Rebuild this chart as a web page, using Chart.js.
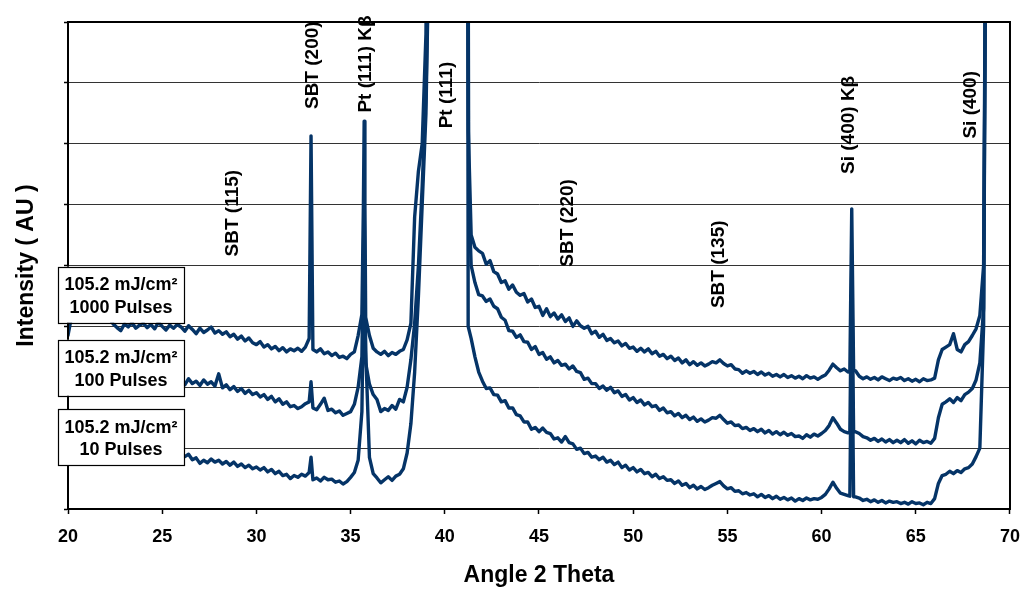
<!DOCTYPE html>
<html>
<head>
<meta charset="utf-8">
<script src="https://cdn.jsdelivr.net/npm/chart.js@4.4.1/dist/chart.umd.min.js"></script>
<style>
  html, body { margin: 0; padding: 0; background: #ffffff; }
  canvas { display: block; }
</style>
</head>
<body>
<canvas id="c" width="1021" height="589"></canvas>
<script>
// ---- DATA -------------------------------------------------------------
// Sampling grid of the scans (degrees 2-theta)
const angleStart = 20;
const angleStep = 0.2;

// Intensity (AU) on the grid, 20.0 .. 68.8 step 0.2 (245 samples each)
const pulses1000 = [
  285, 318, 312, 322, 316, 325, 319, 314, 323, 317,
  320, 313, 304, 298, 293, 304, 299, 306, 297, 302,
  305, 298, 303, 296, 307, 300, 294, 302, 297, 303,
  299, 292, 301, 295, 288, 297, 290, 294, 299, 289,
  293, 287, 291, 283, 287, 279, 284, 276, 281, 273,
  270, 275, 266, 270, 263, 267, 260, 265, 258, 263,
  260, 264, 259, 266, 280, 262, 258, 263, 255, 258,
  252, 256, 249, 251, 247, 254, 258, 285, 320, 315,
  285, 264, 258, 254, 259, 252, 257, 254, 259, 262,
  278, 305, 480, 555, 600, 780, 1500, 1500, 1500, 1500,
  1500, 1500, 1500, 1500, 1500, 1500, 1500, 450, 430, 424,
  420, 402, 408, 390, 386, 372, 375, 361, 368, 356,
  351, 354, 340, 345, 331, 333, 318, 329, 316, 322,
  312, 319, 308, 314, 300, 309, 301, 297, 300, 288,
  292, 282, 287, 277, 280, 273, 276, 268, 272, 264,
  266, 259, 264, 258, 263, 255, 259, 251, 254, 247,
  251, 244, 248, 240, 245, 237, 242, 236, 240, 235,
  238, 242, 240, 245, 239, 235, 237, 230, 229, 223,
  227, 223, 226, 221, 225, 220, 223, 218, 221, 217,
  221, 216, 219, 215, 218, 214, 219, 215, 217, 213,
  217, 220, 228, 238, 232, 227, 230, 225, 493, 227,
  218, 214, 217, 213, 216, 212, 217, 214, 211, 215,
  213, 216, 211, 214, 210, 213, 209, 214, 211, 212,
  215, 245, 262, 266, 270, 288, 262, 258, 270, 275,
  285, 296, 318, 400, 1500
];
const pulses100 = [
  222, 215, 220, 213, 218, 211, 219, 214, 209, 216,
  212, 218, 210, 215, 208, 213, 217, 209, 214, 207,
  212, 206, 214, 209, 204, 211, 205, 210, 203, 208,
  211, 204, 214, 206, 210, 203, 212, 205, 209, 202,
  222, 199, 204, 196, 201, 193, 198, 190, 195, 188,
  191, 184, 188, 180, 185, 176, 181, 172, 176, 168,
  170, 165, 168, 173, 176, 166, 163, 172, 182, 162,
  164, 158, 161, 154, 157, 160, 172, 200, 250, 240,
  205, 188, 180, 160, 165, 162, 170, 164, 180, 176,
  200, 245, 305, 400, 530, 680, 1000, 1500, 1500, 1500,
  1500, 1500, 1500, 1500, 1500, 1500, 1500, 400, 372, 352,
  350, 341, 345, 333, 329, 315, 310, 293, 292, 282,
  286, 275, 274, 262, 267, 254, 257, 246, 250, 240,
  244, 236, 238, 230, 235, 226, 224, 213, 215, 206,
  206, 198, 202, 195, 200, 191, 194, 185, 188, 179,
  183, 175, 179, 171, 175, 168, 170, 162, 166, 158,
  160, 153, 157, 150, 154, 147, 151, 144, 148, 143,
  146, 150, 149, 154, 147, 141, 143, 137, 138, 132,
  134, 129, 132, 127, 131, 125, 129, 123, 127, 122,
  126, 121, 124, 119, 120, 116, 122, 118, 123, 120,
  124, 129, 137, 150, 141, 131, 127, 125, 400, 127,
  124, 119, 117, 113, 116, 111, 115, 110, 114, 109,
  113, 109, 114, 108, 112, 107, 113, 109, 111, 108,
  116, 150, 172, 176, 181, 175, 183, 178, 188, 192,
  198, 212, 240, 330, 1500
];
const pulses10 = [
  98, 92, 100, 94, 97, 91, 99, 93, 96, 90,
  95, 99, 92, 97, 90, 96, 93, 98, 91, 95,
  94, 89, 96, 91, 93, 88, 95, 90, 92, 87,
  91, 86, 90, 81, 84, 75, 80, 76, 82, 77,
  80, 74, 78, 72, 77, 70, 74, 68, 72, 66,
  69, 64, 68, 61, 65, 58, 62, 55, 57, 50,
  55, 52, 57, 54, 60, 48, 51, 46, 52, 48,
  49, 44, 46, 41, 45, 52, 60, 80, 160, 260,
  85, 58, 51, 43, 48, 53, 47, 54, 57, 66,
  92, 140, 225, 350, 500, 650, 1000, 1500, 1500, 1500,
  1500, 1500, 1500, 1500, 1500, 1500, 1500, 280, 250, 225,
  210, 198, 199, 188, 187, 176, 178, 166, 166, 155,
  153, 143, 143, 131, 134, 127, 133, 126, 124, 115,
  117, 110, 119, 109, 107, 98, 100, 91, 93, 85,
  87, 81, 85, 77, 80, 73, 77, 68, 72, 64,
  68, 61, 65, 58, 60, 53, 57, 50, 53, 47,
  48, 42, 46, 39, 42, 35, 39, 33, 37, 32,
  35, 39, 42, 45, 38, 33, 35, 29, 30, 25,
  27, 23, 25, 20, 24, 19, 22, 17, 21, 16,
  19, 15, 18, 13, 17, 14, 18, 15, 17, 16,
  19, 24, 33, 44, 34, 26, 24, 22, 330, 20,
  18, 14, 16, 12, 15, 11, 14, 10, 13, 11,
  12, 9, 11, 8, 12, 9, 10, 7, 11, 9,
  17, 42, 55, 57, 62, 58, 63, 60, 66, 68,
  74, 86, 100, 300, 1500
];

// Sharp reflections sampled off-grid: [2-theta, intensity]
const spikes1000 = [[32.9, 613], [35.68, 500], [35.72, 637], [35.76, 500], [41.25, 620], [61.5, 226], [61.7, 228]];
const spikes100  = [[32.9, 209], [35.72, 500], [41.27, 520], [61.5, 125], [61.7, 127]];
const spikes10   = [[32.9, 85], [35.72, 420], [41.24, 300], [61.5, 21], [61.7, 20]];

// Axis ticks
const xTickMin = 20, xTickMax = 70, xTickStep = 5;
const yMin = 0, yMax = 800, yStep = 100;

// Reflection labels (angle, intensity level of label centre)
const peakLabels = ['SBT (115)', 'SBT (200)', 'Pt (111) K\u03B2', 'Pt (111)', 'SBT (220)', 'SBT (135)', 'Si (400) K\u03B2', 'Si (400)'];
const peakLabelAngles = [28.76, 33.0, 35.82, 40.12, 46.54, 54.55, 61.45, 67.93];
const peakLabelLevels = [486, 729, 731, 680, 470, 402, 631, 664];

// Sample boxes (text, centre angle, centre level)
const sampleLabels = [
  ['105.2 mJ/cm\u00B2', '1000 Pulses'],
  ['105.2 mJ/cm\u00B2', '100 Pulses'],
  ['105.2 mJ/cm\u00B2', '10 Pulses']
];
const sampleLabelAngles = [22.81, 22.81, 22.81];
const sampleLabelLevels = [352, 232, 118];

// ---- BUILD ------------------------------------------------------------
function buildSeries(values, spikes) {
  const pts = values.map((v, i) => ({ x: +(angleStart + i * angleStep).toFixed(2), y: v }));
  spikes.forEach(([x, y]) => pts.push({ x, y }));
  pts.sort((a, b) => a.x - b.x);
  return pts;
}

const LINE = '#053467';
const FONT = '"Liberation Sans", Arial, Helvetica, sans-serif';

const overlayPlugin = {
  id: 'overlay',
  afterDatasetsDraw(chart) {
    const { ctx, chartArea: a, scales: { x, y } } = chart;
    ctx.save();
    // plot frame
    ctx.strokeStyle = '#000';
    ctx.lineWidth = 2;
    ctx.strokeRect(a.left, a.top, a.right - a.left, a.bottom - a.top);

    // sample boxes
    ctx.font = 'bold 18px ' + FONT;
    ctx.textAlign = 'center';
    ctx.textBaseline = 'middle';
    sampleLabels.forEach((lines, i) => {
      const cx = x.getPixelForValue(sampleLabelAngles[i]);
      const cy = y.getPixelForValue(sampleLabelLevels[i]);
      const w = 126, h = 56;
      ctx.fillStyle = '#fff';
      ctx.fillRect(cx - w / 2, cy - h / 2, w, h);
      ctx.strokeStyle = '#000';
      ctx.lineWidth = 1.2;
      ctx.strokeRect(Math.round(cx - w / 2) + 0.5, Math.round(cy - h / 2) + 0.5, w, h);
      ctx.fillStyle = '#000';
      ctx.fillText(lines[0], cx, cy - 9.5);
      ctx.fillText(lines[1], cx, cy + 13);
    });

    // reflection labels (rotated)
    ctx.font = 'bold 19px ' + FONT;
    ctx.fillStyle = '#000';
    peakLabels.forEach((t, i) => {
      const px = x.getPixelForValue(peakLabelAngles[i]);
      const py = y.getPixelForValue(peakLabelLevels[i]);
      ctx.save();
      ctx.translate(px, py);
      ctx.rotate(-Math.PI / 2);
      ctx.textAlign = 'center';
      ctx.textBaseline = 'middle';
      ctx.fillText(t, 0, 0);
      ctx.restore();
    });
    ctx.restore();
  }
};

const mkDs = (label, data) => ({
  label, data,
  borderColor: LINE, borderWidth: 3.4,
  pointRadius: 0, tension: 0, fill: false,
  borderJoinStyle: 'round', borderCapStyle: 'round'
});

new Chart(document.getElementById('c'), {
  type: 'line',
  data: {
    datasets: [
      mkDs('1000 Pulses', buildSeries(pulses1000, spikes1000)),
      mkDs('100 Pulses', buildSeries(pulses100, spikes100)),
      mkDs('10 Pulses', buildSeries(pulses10, spikes10))
    ]
  },
  options: {
    responsive: false,
    animation: false,
    devicePixelRatio: 1,
    layout: { padding: { top: 22, right: 11, left: 0, bottom: 0 } },
    plugins: { legend: { display: false }, tooltip: { enabled: false } },
    scales: {
      x: {
        type: 'linear',
        min: xTickMin, max: xTickMax,
        afterFit: s => { s.height = 80; },
        ticks: { stepSize: xTickStep, color: '#000', padding: 1, font: { family: FONT, size: 18, weight: 'bold', lineHeight: 2.5 }, maxRotation: 0 },
        grid: { drawOnChartArea: false, drawTicks: true, tickLength: 5, tickColor: '#000', tickWidth: 1.5 },
        border: { display: true, color: '#000', width: 2 },
        title: { display: true, text: 'Angle 2 Theta', color: '#000', padding: { top: 0, bottom: 0 }, font: { family: FONT, size: 23, weight: 'bold' } }
      },
      y: {
        min: yMin, max: yMax,
        afterFit: s => { s.width = 68; },
        ticks: { stepSize: yStep, display: false },
        grid: { color: '#333333', lineWidth: 1, drawTicks: true, tickLength: 4, tickColor: '#000', tickWidth: 1.5 },
        border: { display: true, color: '#000', width: 2 },
        title: { display: true, text: 'Intensity ( AU )', color: '#000', padding: { top: 13, bottom: 0 }, font: { family: FONT, size: 23, weight: 'bold' } }
      }
    }
  },
  plugins: [overlayPlugin]
});
</script>
</body>
</html>
